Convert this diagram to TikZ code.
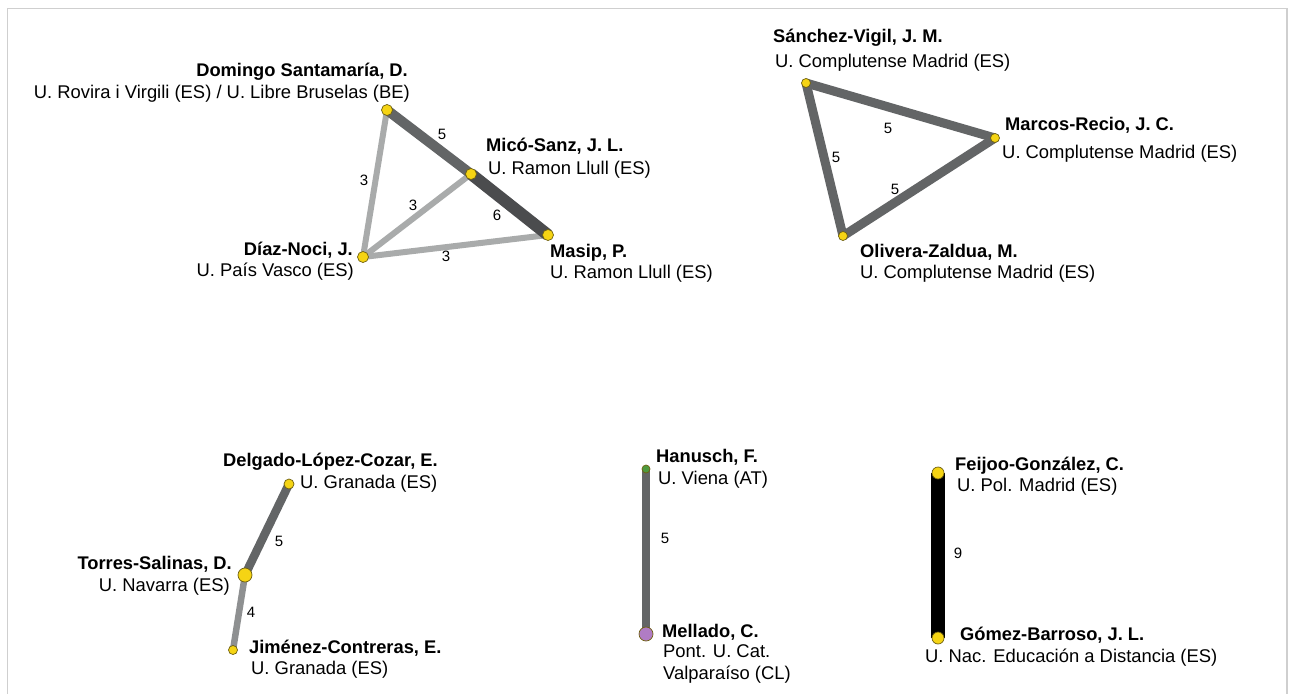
\documentclass[tikz,border=0pt]{standalone}
\usepackage{fontspec}
\setmainfont{Liberation Sans}
\pgfdeclarelayer{bg}
\pgfsetlayers{bg,main}
\definecolor{nyellow}{HTML}{F5D414}
\definecolor{noutline}{HTML}{6E6010}
\definecolor{ngreen}{HTML}{4E9A3E}
\definecolor{npurple}{HTML}{B07CC4}
\definecolor{efive}{HTML}{636566}
\definecolor{esix}{HTML}{4B4C4E}
\definecolor{ethree}{HTML}{A9ABAB}
\definecolor{efour}{HTML}{8E9091}
\definecolor{eframe}{HTML}{CFCFCF}
\tikzset{
  vert/.style={circle, inner sep=0pt, draw=noutline, line width=0.7pt, fill=nyellow},
  nametxt/.style={inner sep=0pt, font=\fontsize{18.3}{22}\selectfont\bfseries},
  insttxt/.style={inner sep=0pt, font=\fontsize{18.4}{22}\selectfont},
  numtxt/.style={inner sep=0pt, font=\fontsize{15}{17}\selectfont},
  link/.style={line cap=butt},
}
\begin{document}
\begin{tikzpicture}[x=1pt,y=-1pt]
\useasboundingbox (0,0) rectangle (1292,693);
\begin{pgfonlayer}{bg}
\fill[white] (0,0) rectangle (1292,693);
\draw[eframe, line width=1.5pt] (7.5,700) -- (7.5,8.5) -- (1287,8.5) -- (1287,700);
\end{pgfonlayer}

% ---------- group 1 ----------
\node[vert, minimum size=11pt] (D) at (387,110) {};
\node[vert, minimum size=11pt] (M) at (471,174) {};
\node[vert, minimum size=11pt] (P) at (548,235) {};
\node[vert, minimum size=11pt] (J) at (363,257) {};
\begin{pgfonlayer}{bg}
\draw[link, ethree, line width=6pt] (D.center) -- (J.center);
\draw[link, ethree, line width=6pt] (J.center) -- (M.center);
\draw[link, ethree, line width=6pt] (J.center) -- (P.center);
\draw[link, efive, line width=10pt] (D.center) -- (M.center);
\draw[link, esix, line width=12pt] (M.center) -- (P.center);
\end{pgfonlayer}
\node[numtxt] (l1) at (442,134) {5};
\node[numtxt] (l2) at (497,215) {6};
\node[numtxt] (l3) at (364,180) {3};
\node[numtxt] (l4) at (413,205) {3};
\node[numtxt] (l5) at (446,256) {3};
\node[nametxt, anchor=base east] (Dn) at (408,77) {Domingo Santamaría, D.};
\node[insttxt, anchor=base east] (Di) at (410,98) {U. Rovira i Virgili (ES) / U. Libre Bruselas (BE)};
\node[nametxt, anchor=base west] (Mn) at (486,151) {Micó-Sanz, J. L.};
\node[insttxt, anchor=base west] (Mi) at (488,174) {U. Ramon Llull (ES)};
\node[nametxt, anchor=base east] (Jn) at (353,255) {Díaz-Noci, J.};
\node[insttxt, anchor=base east] (Ji) at (354,276) {U. País Vasco (ES)};
\node[nametxt, anchor=base west] (Pn) at (550,257) {Masip, P.};
\node[insttxt, anchor=base west] (Pi) at (550,278) {U. Ramon Llull (ES)};

% ---------- group 2 ----------
\node[vert, minimum size=9pt] (S) at (806,83) {};
\node[vert, minimum size=9pt] (R) at (995,138) {};
\node[vert, minimum size=9pt] (O) at (843,236) {};
\begin{pgfonlayer}{bg}
\draw[link, efive, line width=9pt] (S.center) -- (R.center);
\draw[link, efive, line width=9pt] (R.center) -- (O.center);
\draw[link, efive, line width=9pt] (O.center) -- (S.center);
\end{pgfonlayer}
\node[numtxt] (l6) at (888,128) {5};
\node[numtxt] (l7) at (836,157) {5};
\node[numtxt] (l8) at (895,189) {5};
\node[nametxt, anchor=base west] (Sn) at (773,43) {Sánchez-Vigil, J. M.};
\node[insttxt, anchor=base west] (Si) at (775,67) {U. Complutense Madrid (ES)};
\node[nametxt, anchor=base west] (Rn) at (1005,130) {Marcos-Recio, J. C.};
\node[insttxt, anchor=base west] (Ri) at (1002,158) {U. Complutense Madrid (ES)};
\node[nametxt, anchor=base west] (On) at (860,257) {Olivera-Zaldua, M.};
\node[insttxt, anchor=base west] (Oi) at (860,278) {U. Complutense Madrid (ES)};

% ---------- group 3 ----------
\node[vert, minimum size=10pt] (DL) at (289,484) {};
\node[vert, minimum size=14pt] (T) at (245,575) {};
\node[vert, minimum size=9pt] (JC) at (233,650) {};
\begin{pgfonlayer}{bg}
\draw[link, efive, line width=8.5pt] (DL.center) -- (T.center);
\draw[link, efour, line width=6.5pt] (T.center) -- (JC.center);
\end{pgfonlayer}
\node[numtxt] (l9) at (279,541) {5};
\node[numtxt] (l10) at (251,612) {4};
\node[nametxt, anchor=base west] (DLn) at (223,466) {Delgado-López-Cozar, E.};
\node[insttxt, anchor=base west] (DLi) at (300,488) {U. Granada (ES)};
\node[nametxt, anchor=base east] (Tn) at (232,569) {Torres-Salinas, D.};
\node[insttxt, anchor=base east] (Ti) at (230,591) {U. Navarra (ES)};
\node[nametxt, anchor=base west] (JCn) at (249,653) {Jiménez-Contreras, E.};
\node[insttxt, anchor=base west] (JCi) at (251,674) {U. Granada (ES)};

% ---------- group 4 ----------
\node[vert, fill=ngreen, minimum size=8pt] (H) at (646,469) {};
\node[vert, fill=npurple, minimum size=14pt] (ML) at (646,634) {};
\begin{pgfonlayer}{bg}
\draw[link, efive, line width=8.5pt] (H.center) -- (ML.center);
\end{pgfonlayer}
\node[numtxt] (l11) at (665,538) {5};
\node[nametxt, anchor=base west] (Hn) at (656,462) {Hanusch, F.};
\node[insttxt, anchor=base west] (Hi) at (658,484) {U. Viena (AT)};
\node[nametxt, anchor=base west] (MLn) at (662,637) {Mellado, C.};
\node[insttxt, anchor=base west] (MLi) at (663,657) {Pont. U. Cat.};
\node[insttxt, anchor=base west] (MLj) at (663,679) {Valparaíso (CL)};

% ---------- group 5 ----------
\node[vert, minimum size=12pt] (F) at (938,473) {};
\node[vert, minimum size=12pt] (G) at (938,638) {};
\begin{pgfonlayer}{bg}
\draw[link, black, line width=14pt] (F.center) -- (G.center);
\end{pgfonlayer}
\node[numtxt] (l12) at (958,553) {9};
\node[nametxt, anchor=base west] (Fn) at (955,470) {Feijoo-González, C.};
\node[insttxt, anchor=base west] (Fi) at (957,491) {U. Pol. Madrid (ES)};
\node[nametxt, anchor=base west] (Gn) at (960,640) {Gómez-Barroso, J. L.};
\node[insttxt, anchor=base west] (Gi) at (925,662) {U. Nac. Educación a Distancia (ES)};
\end{tikzpicture}
\end{document}
